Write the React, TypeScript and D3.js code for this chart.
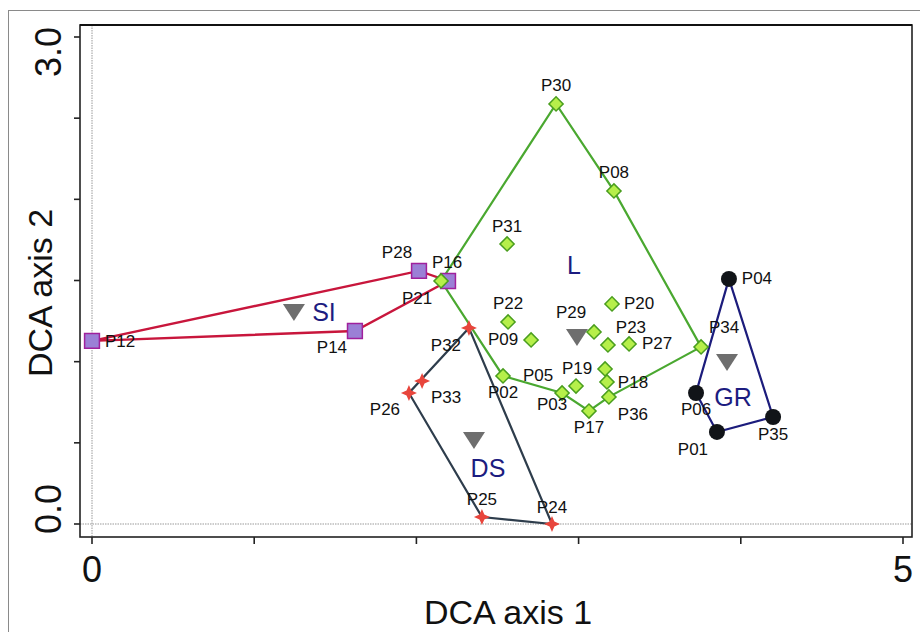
import React from 'react';
import * as d3 from 'd3';

// site scores on DCA axes 1 and 2, per group
const siSites = [
  { id: 'P12', x: 0.0, y: 1.128 },
  { id: 'P14', x: 1.621, y: 1.189 },
  { id: 'P28', x: 2.016, y: 1.559 },
  { id: 'P16', x: 2.195, y: 1.497 },
];
const lSites = [
  { id: 'P21', x: 2.152, y: 1.497 },
  { id: 'P30', x: 2.861, y: 2.588 },
  { id: 'P08', x: 3.218, y: 2.052 },
  { id: 'P31', x: 2.559, y: 1.725 },
  { id: 'P22', x: 2.565, y: 1.245 },
  { id: 'P09', x: 2.707, y: 1.134 },
  { id: 'P29', x: 3.095, y: 1.183 },
  { id: 'P20', x: 3.206, y: 1.356 },
  { id: 'P23', x: 3.181, y: 1.103 },
  { id: 'P27', x: 3.311, y: 1.109 },
  { id: 'P19', x: 3.163, y: 0.955 },
  { id: 'P18', x: 3.175, y: 0.875 },
  { id: 'P05', x: 2.898, y: 0.807 },
  { id: 'P03', x: 2.984, y: 0.85 },
  { id: 'P17', x: 3.064, y: 0.696 },
  { id: 'P36', x: 3.187, y: 0.783 },
  { id: 'P02', x: 2.534, y: 0.912 },
  { id: 'P34', x: 3.755, y: 1.091 },
];
const grSites = [
  { id: 'P04', x: 3.927, y: 1.51 },
  { id: 'P06', x: 3.724, y: 0.807 },
  { id: 'P01', x: 3.853, y: 0.567 },
  { id: 'P35', x: 4.199, y: 0.659 },
];
const dsSites = [
  { id: 'P32', x: 2.324, y: 1.208 },
  { id: 'P33', x: 2.035, y: 0.881 },
  { id: 'P26', x: 1.954, y: 0.807 },
  { id: 'P25', x: 2.404, y: 0.043 },
  { id: 'P24', x: 2.836, y: 0.0 },
];

// hull vertex order per group
const siHull = ['P12', 'P28', 'P16', 'P14'];
const lHull = ['P21', 'P30', 'P08', 'P34', 'P36', 'P17', 'P05', 'P02'];
const grHull = ['P04', 'P35', 'P01', 'P06'];
const dsHull = ['P32', 'P24', 'P25', 'P26'];

// group centroids
const centroidNames = ['SI', 'L', 'GR', 'DS'];
const centroidX = [1.245, 2.99, 3.915, 2.355];
const centroidY = [1.306, 1.152, 0.998, 0.518];

const xTicks = [0, 1, 2, 3, 4, 5];
const yTicks = [0, 0.5, 1, 1.5, 2, 2.5, 3];
const xTickLabels = ['0', '5'];
const yTickLabels = ['0.0', '3.0'];

// label placement (pixels from the point)
const labelPos: Record<string, [number, number]> = {
  P12: [13, 1], P14: [-23, 17], P28: [-22, -18], P16: [-1, -18], P21: [-24, 18],
  P30: [0, -18], P08: [0, -18], P31: [0, -17], P22: [0, -18], P09: [-28, 0],
  P29: [-23, -19], P20: [27, 0], P23: [23, -17], P27: [28, 0], P19: [-28, 0],
  P18: [26, 1], P05: [-24, -17], P03: [-24, 18], P17: [0, 16], P36: [24, 18],
  P02: [0, 17], P34: [23, -19], P04: [28, 0], P06: [0, 17], P01: [-24, 18],
  P35: [0, 17], P32: [-23, 18], P33: [24, 17], P26: [-24, 17], P25: [0, -18],
  P24: [0, -17],
};
const groupLabelPos: Record<string, [number, number]> = {
  SI: [30, 0], L: [-3, -72], GR: [6, 35], DS: [14, 28],
};

const FONT = "'Liberation Sans', Arial, sans-serif";

const x = d3.scaleLinear().domain([0, 5]).range([92, 903]);
const y = d3.scaleLinear().domain([0, 3]).range([524, 37]);

type Site = { id: string; x: number; y: number };

const hullPath = (sites: Site[], order: string[]) => {
  const pts = order.map((id) => sites.find((s) => s.id === id)!);
  return d3.line<Site>().x((d) => x(d.x)).y((d) => y(d.y)).curve(d3.curveLinearClosed)(pts) || '';
};

// four-pointed star marker
const starPath = (() => {
  const outer = 8, inner = 3.4;
  const pts: [number, number][] = [];
  for (let i = 0; i < 8; i++) {
    const r = i % 2 === 0 ? outer : inner;
    const a = (Math.PI / 4) * i - Math.PI / 2;
    pts.push([r * Math.cos(a), r * Math.sin(a)]);
  }
  return d3.line().curve(d3.curveLinearClosed)(pts) || '';
})();

const squarePath = d3.symbol().type(d3.symbolSquare).size(220)() || '';
const diamondPath = d3.symbol().type(d3.symbolSquare).size(100)() || '';
const trianglePath = d3.line().curve(d3.curveLinearClosed)([[-11, -8], [11, -8], [0, 9]]) || '';

const Labels = ({ sites }: { sites: Site[] }) => (
  <g fontFamily={FONT} fontSize={17} fill="#111">
    {sites.map((s) => {
      const [dx, dy] = labelPos[s.id] || [0, -18];
      return (
        <text key={s.id} x={x(s.x) + dx} y={y(s.y) + dy} textAnchor={s.id === 'P12' ? 'start' : 'middle'} dominantBaseline="central">
          {s.id}
        </text>
      );
    })}
  </g>
);

export default function App() {
  const left = 80, right = 912, top = 25, bottom = 537;
  return (
    <svg width={920} height={632} style={{ position: 'absolute', left: 0, top: 0, background: '#fff' }}>
      <rect x={8.5} y={10.5} width={1000} height={1000} fill="#fff" stroke="#8a8a8a" strokeWidth={1} />

      {/* zero reference lines */}
      <line x1={x(0)} x2={x(0)} y1={top} y2={bottom} stroke="#999" strokeWidth={1} strokeDasharray="1.5,1" />
      <line x1={left} x2={right} y1={y(0)} y2={y(0)} stroke="#999" strokeWidth={1} strokeDasharray="1.5,1" />

      {/* frame */}
      <rect x={left} y={top} width={right - left} height={bottom - top} fill="none" stroke="#222" strokeWidth={1.6} />
      <line x1={left} x2={right} y1={top} y2={top} stroke="#111" strokeWidth={2.2} />

      {/* ticks */}
      {yTicks.map((t) => (
        <line key={'yt' + t} x1={left - 6} x2={left} y1={y(t)} y2={y(t)} stroke="#222" strokeWidth={1.6} />
      ))}
      {xTicks.map((t) => (
        <line key={'xt' + t} x1={x(t)} x2={x(t)} y1={bottom} y2={bottom + 7} stroke="#222" strokeWidth={1.6} />
      ))}

      {/* tick labels */}
      <g fontFamily={FONT} fontSize={36} fill="#111">
        <text x={x(0)} y={582} textAnchor="middle">{xTickLabels[0]}</text>
        <text x={x(5)} y={582} textAnchor="middle">{xTickLabels[1]}</text>
        <text transform={`translate(61,${y(0) - 15}) rotate(-90)`} textAnchor="middle">{yTickLabels[0]}</text>
        <text transform={`translate(61,${y(3) + 15}) rotate(-90)`} textAnchor="middle">{yTickLabels[1]}</text>
      </g>

      {/* axis titles */}
      <g fontFamily={FONT} fontSize={34} fill="#111">
        <text x={508} y={624} textAnchor="middle">DCA axis 1</text>
        <text transform="translate(52,293) rotate(-90)" textAnchor="middle">DCA axis 2</text>
      </g>

      {/* hulls */}
      <path d={hullPath(siSites, siHull)} fill="none" stroke="#c8163c" strokeWidth={2.4} />
      <path d={hullPath(lSites, lHull)} fill="none" stroke="#4aa830" strokeWidth={2.2} />
      <path d={hullPath(grSites, grHull)} fill="none" stroke="#1c1c7c" strokeWidth={2.2} />
      <path d={hullPath(dsSites, dsHull)} fill="none" stroke="#2e3d4c" strokeWidth={2.2} />

      {/* centroids */}
      {centroidNames.map((n, i) => (
        <path key={'c' + n} d={trianglePath} transform={`translate(${x(centroidX[i])},${y(centroidY[i])})`} fill="#6e6e6e" />
      ))}
      <g fontFamily={FONT} fontSize={25} fill="#1c1c80">
        {centroidNames.map((n, i) => (
          <text key={'cl' + n} x={x(centroidX[i]) + groupLabelPos[n][0]} y={y(centroidY[i]) + groupLabelPos[n][1]} textAnchor="middle" dominantBaseline="central">
            {n}
          </text>
        ))}
      </g>

      {/* points */}
      {siSites.map((s) => (
        <path key={s.id} d={squarePath} transform={`translate(${x(s.x)},${y(s.y)})`} fill="#9b80d6" stroke="#a0209c" strokeWidth={1.5} />
      ))}
      {lSites.map((s) => (
        <path key={s.id} d={diamondPath} transform={`translate(${x(s.x)},${y(s.y)}) rotate(45)`} fill="#b6ef4a" stroke="#4a9e1e" strokeWidth={1.5} />
      ))}
      {grSites.map((s) => (
        <circle key={s.id} cx={x(s.x)} cy={y(s.y)} r={8} fill="#111418" />
      ))}
      {dsSites.map((s) => (
        <path key={s.id} d={starPath} transform={`translate(${x(s.x)},${y(s.y)})`} fill="#e8453c" />
      ))}

      <Labels sites={siSites} />
      <Labels sites={lSites} />
      <Labels sites={grSites} />
      <Labels sites={dsSites} />
    </svg>
  );
}
